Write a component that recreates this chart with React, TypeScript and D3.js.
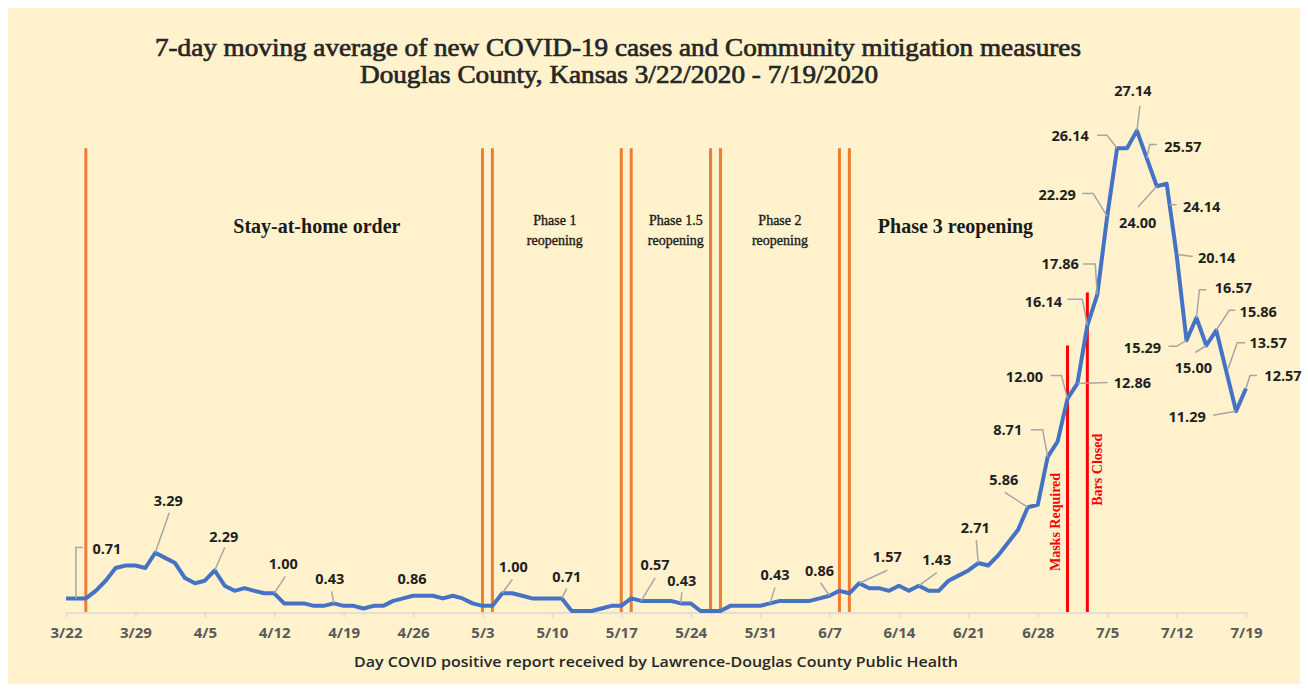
import * as d3 from "d3";
import { useEffect, useRef } from "react";

// 7-day moving average, one value per day from 3/22/2020 to 7/19/2020
const cases = [
  0.71, 0.71, 0.71, 1.14, 1.71, 2.43, 2.57, 2.57, 2.43, 3.29,
  3.0, 2.71, 1.86, 1.57, 1.71, 2.29, 1.43, 1.14, 1.29, 1.14,
  1.0, 1.0, 0.43, 0.43, 0.43, 0.29, 0.29, 0.43, 0.29, 0.29,
  0.14, 0.29, 0.29, 0.57, 0.71, 0.86, 0.86, 0.86, 0.71, 0.86,
  0.71, 0.43, 0.29, 0.29, 1.0, 1.0, 0.86, 0.71, 0.71, 0.71,
  0.71, 0.0, 0.0, 0.0, 0.14, 0.29, 0.29, 0.71, 0.57, 0.57,
  0.57, 0.57, 0.43, 0.43, 0.0, 0.0, 0.0, 0.29, 0.29, 0.29,
  0.29, 0.43, 0.57, 0.57, 0.57, 0.57, 0.71, 0.86, 1.14, 1.0,
  1.57, 1.29, 1.29, 1.14, 1.43, 1.14, 1.43, 1.14, 1.14, 1.71,
  2.0, 2.29, 2.71, 2.57, 3.14, 3.86, 4.57, 5.86, 6.0, 8.71,
  9.57, 12.0, 12.86, 16.14, 17.86, 22.29, 26.14, 26.14, 27.14, 25.57,
  24.0, 24.14, 20.14, 15.29, 16.57, 15.0, 15.86, 13.57, 11.29, 12.57,
];

const tickLabels = [
  "3/22", "3/29", "4/5", "4/12", "4/19", "4/26", "5/3", "5/10", "5/17",
  "5/24", "5/31", "6/7", "6/14", "6/21", "6/28", "7/5", "7/12", "7/19",
];

// days (index into cases) where the mitigation phase changed
const phaseLineDays = [2, 42, 43, 56, 57, 65, 66, 78, 79];
const phaseLineTop = 26.15;

const measureDays = [101, 103];
const measureNames = ["Masks Required", "Bars Closed"];
const measureTops = [15, 18];

const phaseNames = [
  ["Stay-at-home order"],
  ["Phase 1", "reopening"],
  ["Phase 1.5", "reopening"],
  ["Phase 2", "reopening"],
  ["Phase 3 reopening"],
];
const phaseCenters = [25.3, 49.3, 61.5, 72, 89.7];

const labeledDays = [
  1, 9, 15, 21, 27, 35, 44, 50, 58, 62, 71, 77, 80, 86, 92, 97, 99, 101,
  102, 103, 104, 105, 106, 108, 109, 110, 111, 112, 113, 114, 115, 116, 117,
  118, 119,
];

// label placement relative to its point: text offset, then leader polyline
const labelLayout: [number, number, number[][]][] = [
  [31, -50, [[0, 0], [0, -51], [7, -51]]],
  [13, -52, [[0, 0], [14, -40]]],
  [9, -34, [[0, 0], [10, -23]]],
  [9, -30, [[0, 0], [11, -17]]],
  [-4, -25, [[0, 0], [-2, -12]]],
  [-1, -17, []],
  [11, -27, [[0, 0], [10, -14]]],
  [5, -22, [[0, 0], [5, -10]]],
  [14, -36, [[0, 0], [14, -23]]],
  [1, -23, [[0, 0], [1, -11]]],
  [5, -29, [[0, 0], [5, -16]]],
  [-10, -25, [[0, 0], [-9, -13]]],
  [28, -27, [[0, 0], [28, -13]]],
  [18, -26, [[0, 0], [18, -13]]],
  [-3, -36, [[0, 0], [-2, -23]]],
  [-24, -28, [[0, 0], [-23, -15]]],
  [-40, -27, [[0, 0], [-5, -27], [-17, -27]]],
  [-43, -22, [[0, 0], [-6, -23], [-17, -23]]],
  [55, -1, [[0, 0], [30, -1]]],
  [-44, -24, [[0, 0], [-5, -26], [-20, -26]]],
  [-37, -31, [[0, 0], [-2, -31], [-14, -31]]],
  [-50, -22, [[0, 0], [-14, -23], [-25, -23]]],
  [-47, -13, [[0, 0], [-10, -13], [-20, -13]]],
  [-4, -40, [[0, 0], [3, -25]]],
  [36, -12, [[0, 0], [3, -14], [10, -14]]],
  [-19, 36, [[0, 0], [-19, 21]]],
  [35, 23, [[3, 21], [10, 21]]],
  [40, 3, [[1, 0], [16, 2]]],
  [-44, 7, [[0, 0], [-10, 6], [-18, 6]]],
  [37, -30, [[0, 0], [3, -28], [10, -28]]],
  [-13, 22, [[0, 0], [-11, 7]]],
  [42, -19, [[0, 0], [13, -20], [19, -20]]],
  [42, -28, [[2, -2], [11, -28], [19, -28]]],
  [-49, 5, [[0, 0], [-23, 4]]],
  [37, -13, [[0, 0], [4, -13], [11, -13]]],
];

const W = 1308;
const H = 691;
const sans = "'Open Sans', 'Liberation Sans', sans-serif";
const serif = "'Liberation Serif', 'DejaVu Serif', serif";

export default function App() {
  const ref = useRef<SVGSVGElement>(null);

  useEffect(() => {
    document.body.style.margin = "0";
    const svg = d3.select(ref.current);
    svg.selectAll("*").remove();

    const x = d3.scaleLinear().domain([0, cases.length - 1]).range([66, 1246]);
    const y = d3.scaleLinear().domain([0, 28]).range([611, 115.4]);

    svg.append("rect").attr("width", W).attr("height", H).attr("fill", "#fff");
    svg
      .append("rect")
      .attr("x", 8)
      .attr("y", 8)
      .attr("width", 1292)
      .attr("height", 676)
      .attr("fill", "#FFF2CC");

    // title
    const title = svg
      .append("g")
      .attr("font-family", serif)
      .attr("fill", "#262626")
      .attr("stroke", "#262626")
      .attr("stroke-width", 0.7)
      .attr("text-anchor", "middle");
    title
      .append("text")
      .attr("x", 618)
      .attr("y", 56)
      .attr("font-size", 26)
      .attr("textLength", 926)
      .attr("lengthAdjust", "spacingAndGlyphs")
      .text("7-day moving average of new COVID-19 cases and Community mitigation measures");
    title
      .append("text")
      .attr("x", 619)
      .attr("y", 83)
      .attr("font-size", 26)
      .attr("textLength", 518)
      .attr("lengthAdjust", "spacingAndGlyphs")
      .text("Douglas County, Kansas 3/22/2020 - 7/19/2020");

    // x axis
    const axis = d3
      .axisBottom(x)
      .tickValues(tickLabels.map((_, i) => i * 7))
      .tickFormat((_, i) => tickLabels[i])
      .tickSize(5)
      .tickSizeOuter(0)
      .tickPadding(10);
    const ax = svg
      .append("g")
      .attr("transform", `translate(0,${y(0) + 1.5})`)
      .call(axis);
    ax.select(".domain").attr("stroke", "#D9D9D9").attr("stroke-width", 1.5);
    ax.selectAll(".tick line").attr("stroke", "#D9D9D9").attr("stroke-width", 1.5);
    ax.selectAll(".tick text")
      .attr("font-family", sans)
      .attr("font-weight", "bold")
      .attr("font-size", 15)
      .attr("fill", "#595959");

    svg
      .append("text")
      .attr("x", 656)
      .attr("y", 667)
      .attr("text-anchor", "middle")
      .attr("font-family", sans)
      .attr("font-weight", 600)
      .attr("font-size", 14.5)
      .attr("fill", "#262626")
      .attr("textLength", 604)
      .attr("lengthAdjust", "spacingAndGlyphs")
      .text("Day COVID positive report received by Lawrence-Douglas County Public Health");

    // phase change lines
    svg
      .append("g")
      .selectAll("line")
      .data(phaseLineDays)
      .join("line")
      .attr("x1", (d) => x(d))
      .attr("x2", (d) => x(d))
      .attr("y1", y(phaseLineTop))
      .attr("y2", y(0) + 1)
      .attr("stroke", "#ED7D31")
      .attr("stroke-width", 3);

    // measure lines
    const meas = svg
      .append("g")
      .selectAll("g")
      .data(measureDays)
      .join("g");
    meas
      .append("line")
      .attr("x1", (d) => x(d))
      .attr("x2", (d) => x(d))
      .attr("y1", (_, i) => y(measureTops[i]))
      .attr("y2", y(0) + 1)
      .attr("stroke", "#FF0000")
      .attr("stroke-width", 3);
    meas
      .append("text")
      .attr("transform", (d, i) =>
        i === 0
          ? `translate(${x(d) - 12},${y(5.03)}) rotate(-90)`
          : `translate(${x(d) + 10},${y(7.98)}) rotate(-90)`
      )
      .attr("text-anchor", "middle")
      .attr("dominant-baseline", "central")
      .attr("font-family", serif)
      .attr("font-weight", "bold")
      .attr("font-size", 14)
      .attr("fill", "#FF0000")
      .text((_, i) => measureNames[i]);

    // phase names
    const ph = svg
      .append("g")
      .attr("font-family", serif)
      .attr("fill", "#1a1a1a")
      .attr("stroke", "#1a1a1a")
      .attr("text-anchor", "middle");
    phaseNames.forEach((lines, i) => {
      const big = lines.length === 1;
      lines.forEach((t, j) => {
        ph.append("text")
          .attr("x", x(phaseCenters[i]))
          .attr("y", big ? 233 : 225 + j * 20)
          .attr("font-size", big ? 20 : 14)
          .attr("font-weight", big ? "bold" : "normal")
          .attr("stroke-width", big ? 0 : 0.35)
          .text(t);
      });
    });

    // line
    svg
      .append("path")
      .datum(cases)
      .attr("fill", "none")
      .attr("stroke", "#4472C4")
      .attr("stroke-width", 4)
      .attr("stroke-linejoin", "round")
      .attr("d", d3.line<number>().x((_, i) => x(i)).y((d) => y(d)));

    // data labels
    const lab = svg.append("g");
    labeledDays.forEach((day, i) => {
      const [dx, dy, leader] = labelLayout[i];
      const px = x(day);
      const py = y(cases[day]);
      if (leader.length) {
        lab
          .append("polyline")
          .attr("points", leader.map(([a, b]) => `${px + a},${py + b}`).join(" "))
          .attr("fill", "none")
          .attr("stroke", "#A6A6A6")
          .attr("stroke-width", 1.5);
      }
      lab
        .append("text")
        .attr("x", px + dx)
        .attr("y", py + dy)
        .attr("text-anchor", "middle")
        .attr("dominant-baseline", "central")
        .attr("font-family", sans)
        .attr("font-weight", "bold")
        .attr("font-size", 14.5)
        .attr("fill", "#1f1f1f")
        .text(cases[day].toFixed(2));
    });
  }, []);

  return <svg ref={ref} width={W} height={H} style={{ display: "block" }} />;
}
